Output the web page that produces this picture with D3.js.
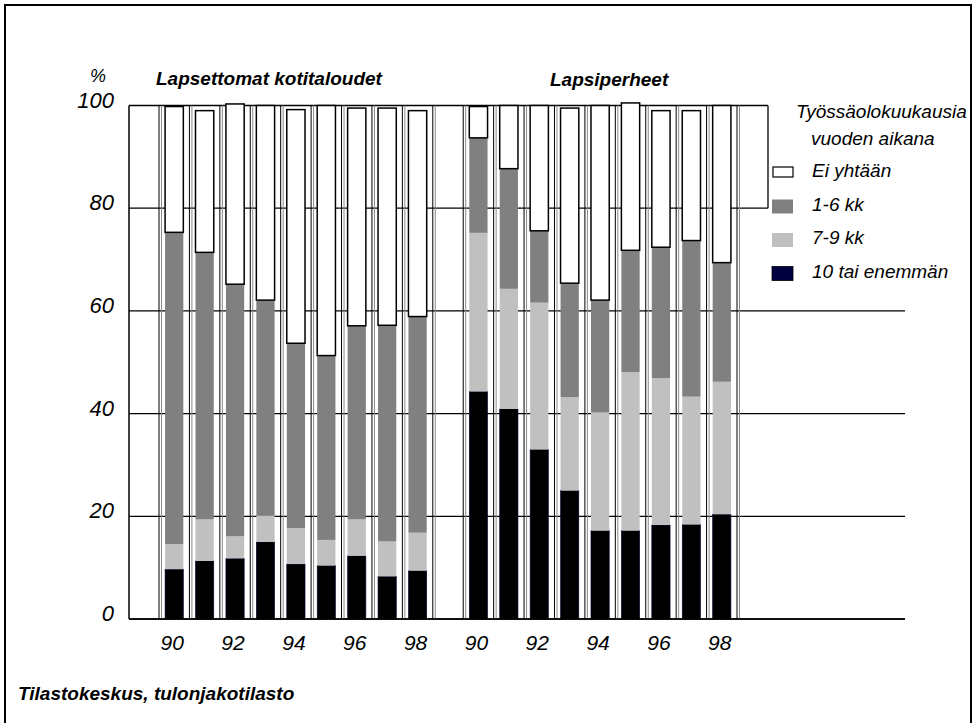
<!DOCTYPE html>
<html>
<head>
<meta charset="utf-8">
<script src="https://cdn.jsdelivr.net/npm/d3@7"></script>
<style>
  html, body { margin: 0; padding: 0; background: #fff; }
  svg { display: block; }
  text { font-family: "Liberation Sans", Arial, sans-serif; font-style: italic; fill: #000; }
</style>
</head>
<body>
<svg id="chart" width="975" height="723"></svg>
<script>
// ---- data ----
const years = ["90", "91", "92", "93", "94", "95", "96", "97", "98"];
const groupNames = ["Lapsettomat kotitaloudet", "Lapsiperheet"];
const seriesNames = ["10 tai enemmän", "7-9 kk", "1-6 kk", "Ei yhtään"]; // bottom -> top
const childless10plus = [9.7, 11.3, 11.8, 15.0, 10.7, 10.4, 12.3, 8.3, 9.4];
const childless7to9  = [4.9, 8.1, 4.3, 5.1, 7.0, 5.0, 7.1, 6.8, 7.4];
const childless1to6  = [60.7, 52.0, 49.1, 42.0, 36.0, 35.9, 37.7, 42.1, 42.1];
const childlessNone  = [24.5, 27.6, 35.1, 37.9, 45.5, 48.7, 42.4, 42.3, 40.1];
const families10plus = [44.3, 40.9, 33.0, 25.0, 17.2, 17.2, 18.3, 18.4, 20.4];
const families7to9   = [30.9, 23.4, 28.6, 18.2, 23.0, 30.9, 28.6, 24.9, 25.8];
const families1to6   = [18.5, 23.4, 14.0, 22.2, 21.9, 23.7, 25.5, 30.4, 23.2];
const familiesNone   = [6.1, 12.3, 24.4, 34.1, 37.9, 28.7, 26.6, 25.3, 30.6];
const xTickLabels = ["90", "92", "94", "96", "98"];
const yTicks = [0, 20, 40, 60, 80, 100];
const legendTitle = ["Työssäolokuukausia", "vuoden aikana"];
const legendOrder = ["Ei yhtään", "1-6 kk", "7-9 kk", "10 tai enemmän"];
const sourceText = "Tilastokeskus, tulonjakotilasto";

// ---- build rows ----
const rows = [];
years.forEach((y, i) => rows.push({ key: "L" + y, year: y, group: 0,
  "10 tai enemmän": childless10plus[i], "7-9 kk": childless7to9[i], "1-6 kk": childless1to6[i], "Ei yhtään": childlessNone[i] }));
const gapKey = "gap";
years.forEach((y, i) => rows.push({ key: "P" + y, year: y, group: 1,
  "10 tai enemmän": families10plus[i], "7-9 kk": families7to9[i], "1-6 kk": families1to6[i], "Ei yhtään": familiesNone[i] }));

const slots = rows.filter(r => r.group === 0).map(r => r.key).concat([gapKey], rows.filter(r => r.group === 1).map(r => r.key));

const svg = d3.select("#chart");

const x = d3.scaleBand().domain(slots).range([159, 737]).paddingInner(0).paddingOuter(0);
const y = d3.scaleLinear().domain([0, 100]).range([619, 105.5]);
const barW = x.bandwidth() * 0.6;

const fills = { "10 tai enemmän": "#000000", "7-9 kk": "#c0c0c0", "1-6 kk": "#808080", "Ei yhtään": "#ffffff" };
const legendFills = { "10 tai enemmän": "#000040", "7-9 kk": "#c0c0c0", "1-6 kk": "#808080", "Ei yhtään": "#ffffff" };

// outer frame
svg.append("rect").attr("x", 5).attr("y", 5).attr("width", 966).attr("height", 730)
  .attr("fill", "none").attr("stroke", "#000").attr("stroke-width", 2);

// horizontal gridlines
const plotLeft = 129, plotRight = 905, legendLeft = 768;
svg.append("g").selectAll("line").data(yTicks).join("line")
  .attr("x1", plotLeft).attr("x2", d => d >= 80 ? legendLeft : plotRight)
  .attr("y1", d => y(d)).attr("y2", d => y(d))
  .attr("stroke", "#000").attr("stroke-width", 1.3);
svg.append("line").attr("x1", legendLeft).attr("x2", legendLeft)
  .attr("y1", y(100)).attr("y2", y(80)).attr("stroke", "#000").attr("stroke-width", 1.3);

// vertical gridlines (band boundaries)
const boundaries = slots.map(s => x(s)).concat([x(slots[slots.length - 1]) + x.bandwidth()]);
const vg = svg.append("g");
vg.selectAll("line.vb").data(boundaries).join("line").attr("class", "vb")
  .attr("x1", d => d).attr("x2", d => d).attr("y1", y(100)).attr("y2", y(0))
  .attr("stroke", "#000").attr("stroke-width", 1);
vg.selectAll("line.vg").data(boundaries).join("line").attr("class", "vg")
  .attr("x1", d => d + 2.5).attr("x2", d => d + 2.5).attr("y1", y(100)).attr("y2", y(0))
  .attr("stroke", "#8a8a8a").attr("stroke-width", 1);

// left axis
svg.append("line").attr("x1", plotLeft).attr("x2", plotLeft).attr("y1", y(100)).attr("y2", y(0))
  .attr("stroke", "#000").attr("stroke-width", 1.5);

// stacked bars
const stack = d3.stack().keys(seriesNames);
const stacked = stack(rows);
const bars = svg.append("g");
stacked.forEach(layer => {
  const key = layer.key;
  bars.append("g").selectAll("rect").data(layer).join("rect")
    .attr("x", d => x(d.data.key) + (x.bandwidth() - barW) / 2)
    .attr("width", barW)
    .attr("y", d => y(d[1]))
    .attr("height", d => y(d[0]) - y(d[1]))
    .attr("fill", fills[key])
    .attr("stroke", key === "Ei yhtään" ? "#000" : (key === "10 tai enemmän" ? "#000033" : "none"))
    .attr("stroke-width", key === "Ei yhtään" ? 1.5 : 0.6);
});

// baseline
svg.append("line").attr("x1", plotLeft).attr("x2", plotRight).attr("y1", y(0)).attr("y2", y(0))
  .attr("stroke", "#000").attr("stroke-width", 1.5);

// y tick labels
svg.append("g").selectAll("text").data(yTicks).join("text")
  .attr("x", 114).attr("y", d => y(d) + 2)
  .attr("text-anchor", "end").attr("font-size", 22).text(d => d);
svg.append("text").attr("x", 98).attr("y", 82).attr("text-anchor", "middle").attr("font-size", 18).text("%");

// x tick labels
const xLab = svg.append("g");
[0, 1].forEach(g => {
  xTickLabels.forEach(lbl => {
    const key = (g === 0 ? "L" : "P") + lbl;
    xLab.append("text").attr("x", x(key) + x.bandwidth() / 2 - 2).attr("y", 650)
      .attr("text-anchor", "middle").attr("font-size", 21).text(lbl);
  });
});

// group titles
svg.append("text").attr("x", 156).attr("y", 85).attr("font-size", 19).attr("font-weight", "bold").text(groupNames[0]);
svg.append("text").attr("x", 550).attr("y", 86).attr("font-size", 19).attr("font-weight", "bold").text(groupNames[1]);

// legend
svg.append("text").attr("x", 796).attr("y", 118).attr("font-size", 19).text(legendTitle[0]);
svg.append("text").attr("x", 811).attr("y", 145).attr("font-size", 19).text(legendTitle[1]);
const lg = svg.append("g");
legendOrder.forEach((name, i) => {
  const cy = 172 + i * 33.5;
  if (name === "Ei yhtään") {
    lg.append("rect").attr("x", 773).attr("y", cy - 5).attr("width", 20).attr("height", 10)
      .attr("fill", "#fff").attr("stroke", "#000").attr("stroke-width", 1.2);
  } else {
    lg.append("rect").attr("x", 772).attr("y", cy - 6).attr("width", 21).attr("height", 14)
      .attr("fill", legendFills[name]).attr("stroke", name === "10 tai enemmän" ? "#000" : "none").attr("stroke-width", 0.8);
  }
  lg.append("text").attr("x", 812).attr("y", cy + 5).attr("font-size", 19).text(name);
});

// source
svg.append("text").attr("x", 18).attr("y", 700).attr("font-size", 19).attr("font-weight", "bold").text(sourceText);
</script>
</body>
</html>
